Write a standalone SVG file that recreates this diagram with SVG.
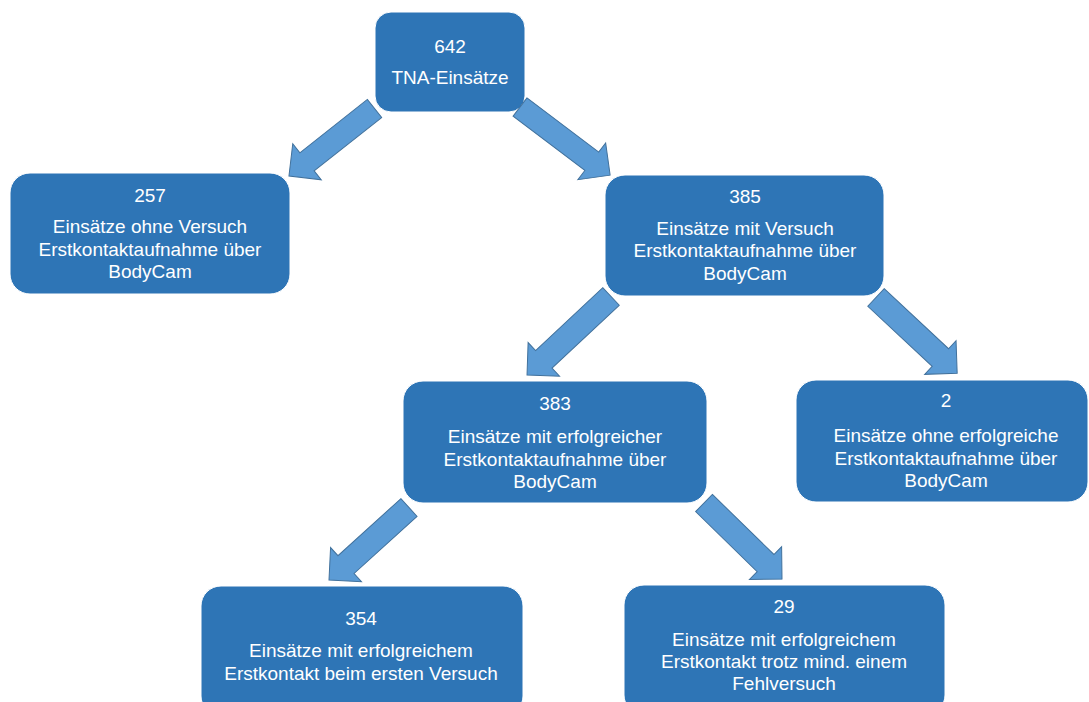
<svg xmlns="http://www.w3.org/2000/svg" width="1089" height="702" viewBox="0 0 1089 702">
<style>
.box{fill:#2E75B6;stroke:#FFFFFF;stroke-width:1}
.t{font-family:"Liberation Sans",Arial,sans-serif;font-size:19px;fill:#FFFFFF;text-anchor:middle}
.arr{fill:#5B9BD5;stroke:#41719C;stroke-width:1;stroke-linejoin:miter}
</style>
<rect width="1089" height="702" fill="#FFFFFF"/>
<g id="n642">
<rect class="box" x="375" y="12" width="150" height="100" rx="16"/>
<text class="t" x="450" y="53">642</text>
<text class="t" x="450" y="84">TNA-Einsätze</text>
</g>
<g id="n257">
<rect class="box" x="10" y="173" width="280" height="121" rx="20"/>
<text class="t" x="150" y="202">257</text>
<text class="t" x="150" y="233">Einsätze ohne Versuch</text>
<text class="t" x="150" y="256">Erstkontaktaufnahme über</text>
<text class="t" x="150" y="278">BodyCam</text>
</g>
<g id="n385">
<rect class="box" x="605" y="175" width="279" height="121" rx="20"/>
<text class="t" x="745" y="203">385</text>
<text class="t" x="745" y="235">Einsätze mit Versuch</text>
<text class="t" x="745" y="257">Erstkontaktaufnahme über</text>
<text class="t" x="745" y="280">BodyCam</text>
</g>
<g id="n383">
<rect class="box" x="403" y="381" width="304" height="122" rx="20"/>
<text class="t" x="555" y="410">383</text>
<text class="t" x="555" y="443">Einsätze mit erfolgreicher</text>
<text class="t" x="555" y="466">Erstkontaktaufnahme über</text>
<text class="t" x="555" y="488">BodyCam</text>
</g>
<g id="n2">
<rect class="box" x="796" y="380" width="292" height="122" rx="20"/>
<text class="t" x="946" y="407">2</text>
<text class="t" x="946" y="442">Einsätze ohne erfolgreiche</text>
<text class="t" x="946" y="465">Erstkontaktaufnahme über</text>
<text class="t" x="946" y="487">BodyCam</text>
</g>
<g id="n354">
<rect class="box" x="201" y="586" width="322" height="130" rx="20"/>
<text class="t" x="361" y="625">354</text>
<text class="t" x="361" y="657">Einsätze mit erfolgreichem</text>
<text class="t" x="361" y="680">Erstkontakt beim ersten Versuch</text>
</g>
<g id="n29">
<rect class="box" x="624" y="585" width="321" height="130" rx="20"/>
<text class="t" x="784" y="613">29</text>
<text class="t" x="784" y="646">Einsätze mit erfolgreichem</text>
<text class="t" x="784" y="668">Erstkontakt trotz mind. einem</text>
<text class="t" x="784" y="690">Fehlversuch</text>
</g>
<g id="connectors">
<path class="arr" transform="translate(374.5,108.5) rotate(141.7)" d="M0,-11.5 H86 V-23 L109,0 L86,23 V11.5 H0 Z"/>
<path class="arr" transform="translate(520,107) rotate(37.1)" d="M0,-11.5 H90 V-23 L113,0 L90,23 V11.5 H0 Z"/>
<path class="arr" transform="translate(611,296.5) rotate(136.9)" d="M0,-12 H92 V-23 L115,0 L92,23 V12 H0 Z"/>
<path class="arr" transform="translate(876,297.5) rotate(43)" d="M0,-12 H88 V-23 L111,0 L88,23 V12 H0 Z"/>
<path class="arr" transform="translate(409,507.5) rotate(137.8)" d="M0,-12 H85 V-23 L108,0 L85,23 V12 H0 Z"/>
<path class="arr" transform="translate(704,503) rotate(44.3)" d="M0,-12 H86 V-23 L109,0 L86,23 V12 H0 Z"/>
</g>
</svg>
